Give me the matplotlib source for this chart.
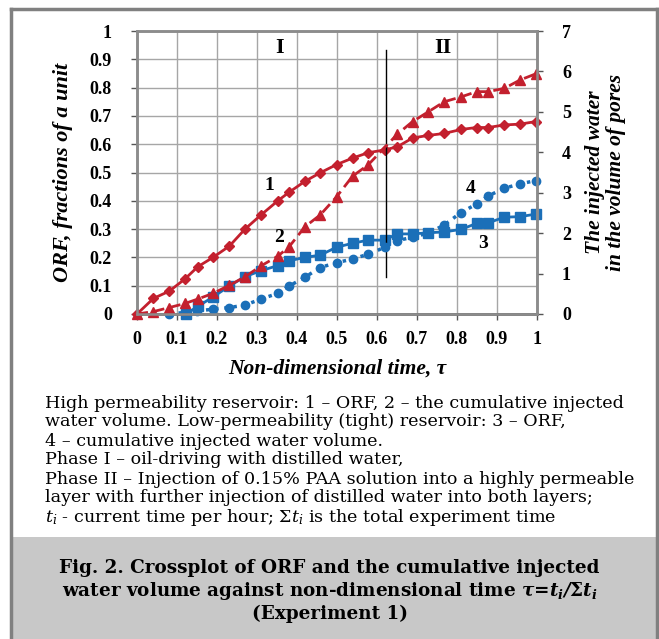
import numpy as np
import matplotlib.pyplot as plt
from matplotlib.patches import Rectangle
from matplotlib.lines import Line2D

plt.rcParams['font.family'] = ['Liberation Serif', 'DejaVu Serif']
plt.rcParams['mathtext.fontset'] = 'custom'
plt.rcParams['mathtext.rm'] = 'DejaVu Serif'
plt.rcParams['mathtext.it'] = 'DejaVu Serif:italic'
plt.rcParams['mathtext.bf'] = 'DejaVu Serif:bold'
plt.rcParams['mathtext.bfit'] = 'DejaVu Serif:bold:italic'

# Curve 1 - ORF, high permeability reservoir (left axis)
tau1 = [0, .041, .081, .12, .152, .19, .231, .27, .31, .352, .38, .42, .458, .499,
        .539, .578, .62, .651, .689, .728, .768, .81, .849, .878, .918, .958, .997]
orf1 = [0, .055, .081, .124, .167, .20, .24, .30, .35, .40, .43, .469, .499, .528,
        .551, .57, .58, .591, .622, .631, .638, .652, .659, .659, .668, .671, .68]

# Curve 2 - injected water, high permeability reservoir (right axis)
tau2 = [0, .041, .081, .12, .152, .19, .231, .27, .31, .352, .38, .42, .458, .499,
        .539, .578, .651, .689, .728, .768, .81, .849, .878, .918, .958, .997]
vol2 = [0, .06, .16, .26, .37, .51, .71, .92, 1.19, 1.43, 1.66, 2.16, 2.45, 2.9,
        3.41, 3.69, 4.45, 4.76, 5.0, 5.25, 5.37, 5.5, 5.5, 5.58, 5.79, 5.94]

# Curve 3 - ORF, low permeability reservoir (left axis)
tau3 = [.1225, .152, .19, .231, .27, .31, .352, .38, .42, .458, .499, .539, .578,
        .62, .649, .689, .728, .768, .81, .849, .878, .918, .958, .997]
orf3 = [0, .027, .06, .099, .132, .153, .171, .188, .20, .208, .236, .25, .261,
        .261, .283, .283, .287, .29, .299, .32, .322, .342, .344, .353]

# Curve 4 - injected water, low permeability reservoir (right axis)
tau4 = [.081, .149, .19, .231, .27, .31, .352, .38, .42, .458, .499, .539, .578,
        .62, .649, .689, .728, .768, .81, .849, .878, .918, .958, .997]
vol4 = [0, .07, .12, .16, .22, .37, .51, .69, .91, 1.15, 1.27, 1.36, 1.48,
        1.65, 1.81, 1.90, 2.0, 2.2, 2.51, 2.72, 2.92, 3.11, 3.22, 3.30]

red = '#c3202e'
blue = '#1b6fb8'
frame = '#808080'

fig = plt.figure(figsize=(6.59, 6.39), dpi=100)

# grey caption panel and outer frame
fig.patches.append(Rectangle((11 / 659, 0), 646 / 659, 102 / 639, transform=fig.transFigure,
                             facecolor='#c8c8c8', edgecolor='none', zorder=0))
fl = 1 - 9 / 639
for xs, ys in [([11 / 659, 11 / 659], [0, fl]), ([11 / 659, 657 / 659], [fl, fl]),
               ([657 / 659, 657 / 659], [fl, 0])]:
    fig.lines.append(Line2D(xs, ys, transform=fig.transFigure, color=frame, lw=2.5))

ax = fig.add_axes([137 / 659, 1 - 314 / 639, 400 / 659, 283 / 639])
ax2 = ax.twinx()

ax.plot(tau3, orf3, '-s', color=blue, ms=6.5, lw=2, clip_on=False)
ax.plot(tau1, orf1, '-D', color=red, ms=5, lw=2, clip_on=False)
ax2.plot(tau4, vol4, ':o', color=blue, ms=6, lw=2.5, clip_on=False)
ax2.plot(tau2, vol2, '--^', color=red, ms=7.5, lw=2, dashes=(4, 2), clip_on=False)

ax.set_xlim(0, 1)
ax.set_ylim(0, 1)
ax2.set_ylim(0, 7)
ax.set_xticks(np.arange(0, 1.01, 0.1))
ax.set_yticks(np.arange(0, 1.01, 0.1))
ax2.set_yticks(range(8))
ax.set_xticklabels(['0', '0.1', '0.2', '0.3', '0.4', '0.5', '0.6', '0.7', '0.8', '0.9', '1'])
ax.set_yticklabels(['0', '0.1', '0.2', '0.3', '0.4', '0.5', '0.6', '0.7', '0.8', '0.9', '1'])
ax.grid(True, color='#a6a6a6', lw=1)
ax.set_axisbelow(True)
for a in (ax, ax2):
    for s in a.spines.values():
        s.set_color('#8c8c8c')
        s.set_linewidth(1.8)
ax.spines['bottom'].set_color('#555555')
ax.tick_params(axis='both', length=4, width=1, color='#555555', labelsize=13, pad=8)
ax.tick_params(axis='y', pad=14)
ax2.tick_params(axis='y', length=4, width=1, color='#555555', labelsize=13, pad=14)
for lab in ax.get_xticklabels() + ax.get_yticklabels() + ax2.get_yticklabels():
    lab.set_fontweight('bold')

ax.set_xlabel('Non-dimensional time, τ', fontsize=15.5, fontweight='bold', style='italic', labelpad=8)
ax.set_ylabel('ORF, fractions of a unit', fontsize=16, fontweight='bold', style='italic', labelpad=12)
ax2.set_ylabel('The injected water\nin the volume of pores', fontsize=15.5, fontweight='bold',
               style='italic', labelpad=10, linespacing=1.1)

# phase boundary and labels
ax.plot([0.623, 0.623], [0.13, 0.933], color='black', lw=1)
ax.text(0.357, 0.94, 'I', fontsize=16, fontweight='bold', ha='center', va='center')
ax.text(0.765, 0.94, 'II', fontsize=16, fontweight='bold', ha='center', va='center')
for s, x, y in [('1', 0.33, 0.455), ('2', 0.355, 0.27), ('3', 0.865, 0.25), ('4', 0.835, 0.445)]:
    ax.text(x, y, s, fontsize=14, fontweight='bold', ha='center', va='center')

notes = ['High permeability reservoir: 1 – ORF, 2 – the cumulative injected',
         'water volume. Low-permeability (tight) reservoir: 3 – ORF,',
         '4 – cumulative injected water volume.',
         'Phase I – oil-driving with distilled water,',
         'Phase II – Injection of 0.15% PAA solution into a highly permeable',
         'layer with further injection of distilled water into both layers;',
         r'$t_i$ - current time per hour; Σ$t_i$ is the total experiment time']
for i, line in enumerate(notes):
    fig.text(45 / 659, 1 - (403 + 19 * i) / 639, line, fontsize=12.6, ha='left', va='center',
             family='DejaVu Serif')

caption = ['Fig. 2. Crossplot of ORF and the cumulative injected',
           r'water volume against non-dimensional time $\mathbfit{τ}$=$\mathbfit{t_i/}$Σ$\mathbfit{t_i}$',
           '(Experiment 1)']
for i, line in enumerate(caption):
    fig.text(0.5, 1 - (568 + 23 * i) / 639, line, fontsize=13.2, fontweight='bold',
             ha='center', va='center', family='DejaVu Serif')

fig.savefig('out.png', dpi=100)
